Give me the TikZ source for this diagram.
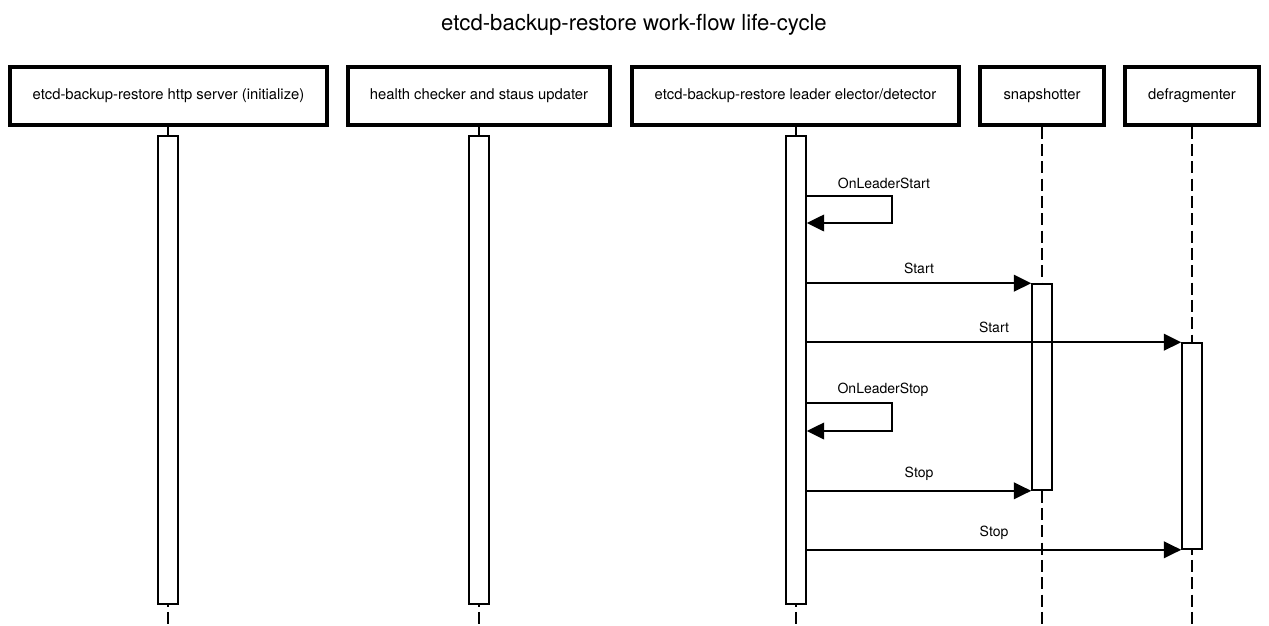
\documentclass[tikz,border=0pt]{standalone}
\usepackage{fontspec}
\setmainfont{TeX Gyre Heros}
\usetikzlibrary{arrows.meta}

\begin{document}
\begin{tikzpicture}[x=0.75pt,y=0.75pt,yscale=-1,xscale=1,
  actor/.style={draw,line width=2.3pt,minimum height=43.5pt,font=\fontsize{11.1pt}{13pt}\selectfont},
  bar/.style={draw,fill=white,line width=1.2pt,minimum width=15pt},
  lifeline/.style={line width=1.3pt,dash pattern={on 9pt off 4pt}},
  msg/.style={line width=1.3pt,-{Triangle[length=13pt,width=12.5pt]}},
  lbl/.style={font=\fontsize{10.5pt}{12pt}\selectfont,inner sep=0.75pt}]
\useasboundingbox (0,0) rectangle (1269,625);

% Text Node
\draw (634,25) node [font=\fontsize{16.6pt}{19pt}\selectfont] (title) {etcd-backup-restore work-flow life-cycle};

%Participants
\node [actor,minimum width=237.75pt] (server) at (168.5,96) {etcd-backup-restore http server (initialize)};
\node [actor,minimum width=196.5pt] (health) at (479,96) {health checker and staus updater};
\node [actor,minimum width=245.25pt] (leader) at (795.5,96) {etcd-backup-restore leader elector/detector};
\node [actor,minimum width=93pt] (snap) at (1042,96) {snapshotter};
\node [actor,minimum width=100.5pt] (defrag) at (1192,96) {defragmenter};

%Life lines
\coordinate (end1) at (168,625);
\coordinate (end2) at (479,625);
\coordinate (end3) at (796,625);
\coordinate (end4) at (1042,625);
\coordinate (end5) at (1192,625);
\draw [lifeline] (server.south -| end1) -- (end1);
\draw [lifeline] (health.south) -- (end2);
\draw [lifeline] (leader.south -| end3) -- (end3);
\draw [lifeline] (snap.south) -- (end4);
\draw [lifeline] (defrag.south) -- (end5);

%Activation bars
\node [bar,minimum height=351pt] (act1) at (168,370) {};
\node [bar,minimum height=351pt] (act2) at (479,370) {};
\node [bar,minimum height=351pt] (act3) at (796,370) {};
\node [bar,minimum height=154.5pt] (act4) at (1042,387) {};
\node [bar,minimum height=154.5pt] (act5) at (1192,446) {};

%Messages
\draw [msg] (act3.east |- 0,196) -| (892,223) -- (act3.east |- 0,223);
\draw (884,183) node [lbl] (lstart) {OnLeaderStart};
\draw [msg] (act3.east |- act4.north) -- (act4.north west) node [lbl,midway,above=6pt] {Start};
\draw [msg] (act3.east |- act5.north) -- (act5.north west) node [lbl,midway,above=6pt] {Start};
\draw [msg] (act3.east |- 0,403) -| (892,431) -- (act3.east |- 0,431);
\draw (883,390) node [lbl] (lstop) {OnLeaderStop};
\draw [msg] (act3.east |- act4.south) -- (act4.south west) node [lbl,midway,above=6pt] {Stop};
\draw [msg] (act3.east |- act5.south) -- (act5.south west) node [lbl,midway,above=6pt] {Stop};

\end{tikzpicture}
\end{document}
